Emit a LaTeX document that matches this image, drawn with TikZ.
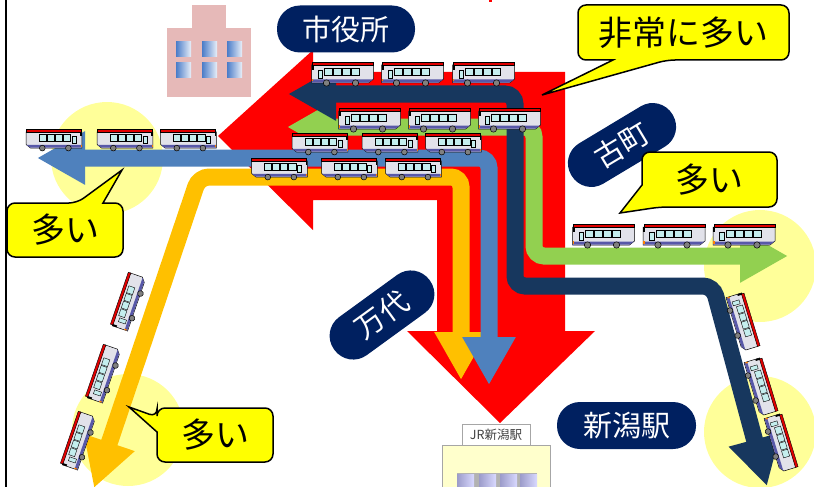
\documentclass[tikz,border=0pt]{standalone}
\usepackage{fontspec}
\newfontfamily\jp{Noto Sans CJK JP}
\usetikzlibrary{arrows.meta}

\definecolor{routeorange}{HTML}{FFC000}
\definecolor{routeblue}{HTML}{4F81BD}
\definecolor{routegreen}{HTML}{92D050}
\definecolor{routenavy}{HTML}{17375E}
\definecolor{pillnavy}{HTML}{002060}
\definecolor{halo}{HTML}{FFFF99}
\definecolor{callyellow}{HTML}{FFFF00}
\definecolor{hallpink}{HTML}{E6B9B8}
\definecolor{winblue}{HTML}{4A7CC8}
\definecolor{busred}{HTML}{E00000}
\definecolor{buswin}{HTML}{C4EEEE}
\definecolor{busbody}{HTML}{E2E2EA}
\definecolor{busstripe}{HTML}{5858A8}
\definecolor{stationyellow}{HTML}{FFFFCC}

\tikzset{
  route/.style={line width=17pt, rounded corners=10pt, >={Triangle[length=48pt,width=50pt]}},
  pill/.style={fill=pillnavy, text=white, rounded corners=23pt, minimum height=47pt,
    inner sep=0pt, font=\jp\fontsize{29}{29}\selectfont},
  callout/.style={fill=callyellow, draw=black, line width=1.5pt},
  calltext/.style={inner sep=0pt, font=\jp\fontsize{34}{34}\selectfont},
  bus/.pic={
    \filldraw[fill=busbody, line width=0.5pt] (-31,-9) -- (31,-9) -- (31,5) -- (26,9) -- (-31,9) -- cycle;
    \fill[busstripe] (-30.7,5.5) -- (30.5,5.5) -- (26,8.6) -- (-30.7,8.6) -- cycle;
    \filldraw[fill=busred, line width=0.4pt] (-30,-11.5) rectangle (31,-8.5);
    \foreach \i in {0,...,3}
      \filldraw[fill=buswin, line width=0.4pt] (-18+\i*9,-6) rectangle +(8,7);
    \filldraw[fill=buswin, line width=0.4pt] (-24.5,-4) rectangle (-20,4);
    \fill (-31,-9) rectangle (-29,-4);
    \fill[orange] (-31,5) rectangle (-29.5,7.5);
    \foreach \w in {-16,13}
      \filldraw[fill=gray, line width=0.5pt] (\w,9) circle (3.2);
  }
}

\begin{document}
\begin{tikzpicture}[x=1pt, y=-1pt]
\useasboundingbox (0,0) rectangle (814,487);

% busy areas
\foreach \cx/\cy in {107/158, 128/430, 760/266, 760/432}
  \fill[halo] (\cx,\cy) circle (56);

% city hall
\fill[hallpink] (167,28) rectangle (251,97);
\fill[hallpink] (192,5) rectangle (226,28);
\foreach \wx in {176,202,227}
  \foreach \wy in {42,63}
    \fill[left color=winblue, right color=winblue!12] (\wx,\wy) rectangle +(15,15);

% total flow
\fill[red] (218,136) -- (313,50) -- (313,72) -- (565,72) -- (565,331) -- (595,331)
  -- (500,423) -- (407,331) -- (437,331) -- (437,200) -- (313,200) -- (313,230) -- cycle;
\fill[red] (489,0) rectangle (492,2);

% routes
\draw[route, routeorange, <->] (461,380) -- (461,177) -- (199,177) -- (94,488);
\draw[route, routeblue, <->] (37,158) -- (489,158) -- (489,385);
\draw[route, routegreen, <->] (287,127) -- (534,127) -- (534,256) -- (788,256);
\draw[route, routenavy, <->] (288,94) -- (515,94) -- (515,286) -- (713,286) -- (767,486);

% buses
\foreach \bx in {342.5,412.5,483.5} \pic at (\bx,74) {bus};
\foreach \bx in {369.5,439.5,509.5} \pic at (\bx,120) {bus};
\foreach \bx in {320,390,453.5} \pic[xscale=-0.9, yscale=0.9] at (\bx,144) {bus};
\foreach \bx in {279.5,349.5,413.5} \pic[xscale=-0.9, yscale=0.9] at (\bx,169) {bus};
\foreach \bx in {54,125,188.5} \pic[xscale=-0.9, yscale=0.9] at (\bx,140) {bus};
\foreach \bx in {603.5,674,744} \pic at (\bx,236) {bus};
\foreach \bx/\by in {129/302,104/374,79/441} \pic[rotate=71, scale=0.9] at (\bx,\by) {bus};
\foreach \bx/\by in {742/322,760/387,780/443} \pic[rotate=-73, scale=0.9] at (\bx,\by) {bus};

% place names
\node[pill, minimum width=138pt] (shiyakusho) at (346,29) {市役所};
\node[pill, minimum width=139pt] (niigataeki) at (626.5,425.5) {新潟駅};
\node[pill, minimum width=118pt, rotate=31] (furumachi) at (622,145) {古町};
\node[pill, minimum width=118pt, rotate=36] (bandai) at (382,315) {万代};

% callouts
\draw[callout] (542,95) -- (613,60) [rounded corners=8pt] -- (578,60) -- (578,5) -- (789,5)
  -- (789,60) -- (667,60) [sharp corners] -- cycle;
\node[calltext] (hijou) at (683.5,32.5) {非常に多い};
\draw[callout] (620,213) -- (642,185) [rounded corners=8pt] -- (642,152) -- (777,152)
  -- (777,207) -- (660,207) [sharp corners] -- cycle;
\node[calltext] (ooiE) at (709.5,179.5) {多い};
\draw[callout] (122,170) -- (103,203) [rounded corners=8pt] -- (123,203) -- (123,257)
  -- (7,257) -- (7,203) -- (77,203) [sharp corners] -- cycle;
\node[calltext] (ooiW) at (65,230) {多い};
\draw[callout] (129,407) -- (157,432) [rounded corners=8pt] -- (157,462) -- (273,462)
  -- (273,408) -- (157,408) -- (157,417) [sharp corners] -- cycle;
\node[calltext] (ooiSW) at (215,435) {多い};

% station
\draw[gray!70, fill=stationyellow] (442,445) rectangle (550,495);
\fill[gray!60] (457,473) rectangle (537,495);
\foreach \px in {457,479,500,520}
  \fill[left color=gray!70!blue!60, right color=blue!15] (\px,474) rectangle +(17,21);
\node[draw=gray!70, fill=white, minimum width=68pt, minimum height=21pt, inner sep=0pt,
  text=black!75, font=\jp\fontsize{12.5}{12.5}\selectfont] (jr) at (496,434.5) {JR新潟駅};

\draw[line width=2pt] (6,0) -- (6,487);
\end{tikzpicture}
\end{document}
